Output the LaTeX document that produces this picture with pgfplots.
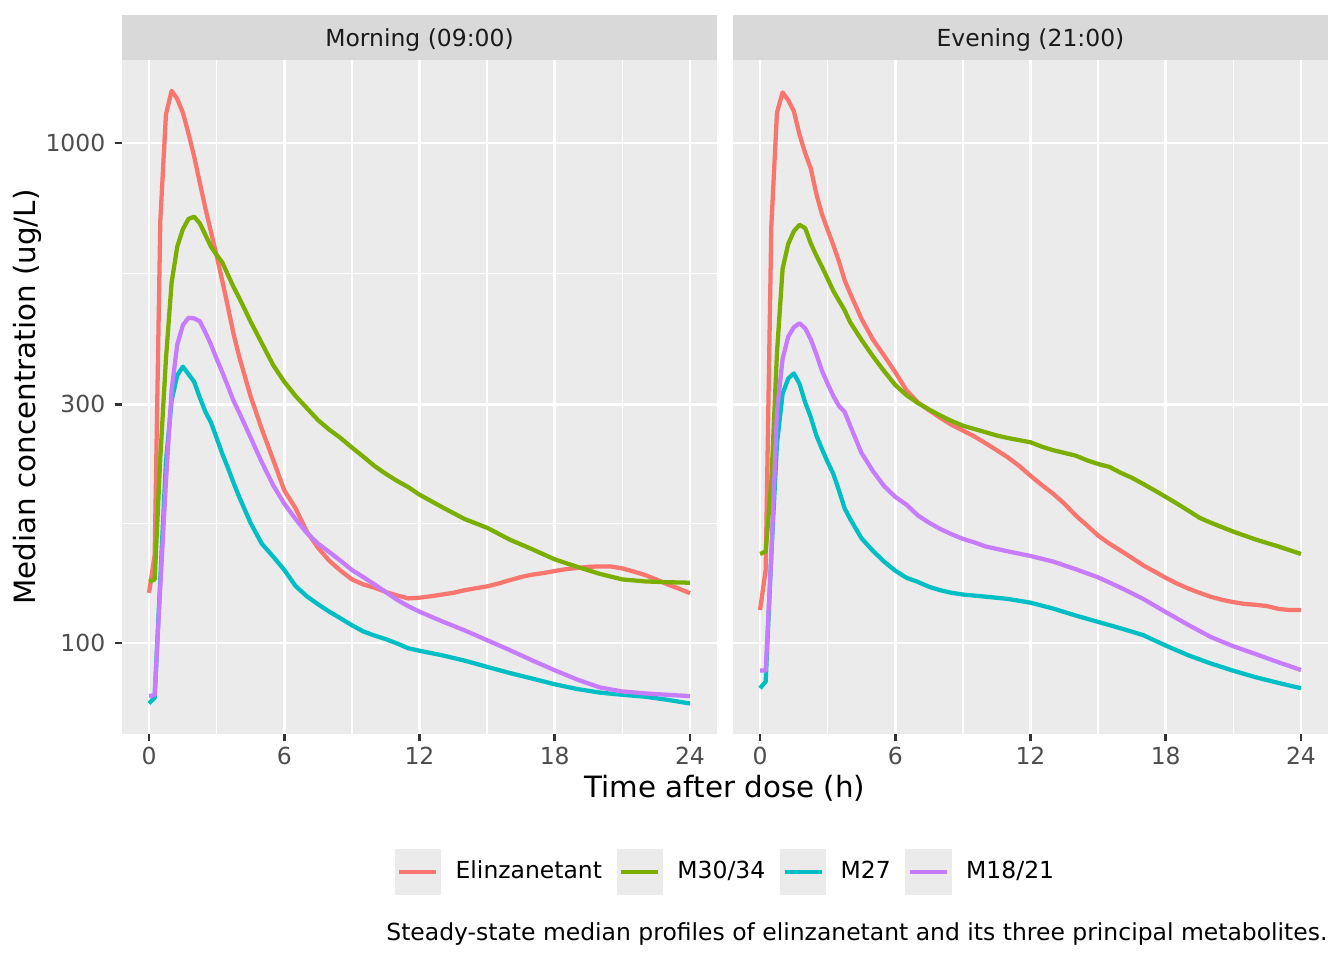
\documentclass[border=0pt]{standalone}
\usepackage{fontspec}
\setmainfont{DejaVu Sans}
\usepackage{pgfplots}
\pgfplotsset{compat=1.18}
\definecolor{ggred}{HTML}{F8766D}
\definecolor{gggreen}{HTML}{7CAE00}
\definecolor{ggteal}{HTML}{00BFC4}
\definecolor{ggpurple}{HTML}{C77CFF}
\definecolor{ggbg}{HTML}{EBEBEB}
\definecolor{ggstrip}{HTML}{D9D9D9}
\definecolor{ggtick}{HTML}{333333}
\definecolor{ggtext}{HTML}{4D4D4D}
\definecolor{ggstriptext}{HTML}{1A1A1A}
\newcommand{\smallfont}{\fontsize{8.8}{10.56}\selectfont}
\newcommand{\titlefont}{\fontsize{11}{13.2}\selectfont}
\begin{document}
\begin{tikzpicture}
\useasboundingbox (0,0) rectangle (504pt,360pt);
% strips
\fill[ggstrip] (45.75pt,337.5pt) rectangle (268.875pt,354.375pt);
\fill[ggstrip] (274.875pt,337.5pt) rectangle (498pt,354.375pt);
\node[font=\smallfont, text=ggstriptext] at (157.31pt,344.9pt) {Morning (09:00)};
\node[font=\smallfont, text=ggstriptext] at (386.44pt,344.9pt) {Evening (21:00)};

\begin{axis}[at={(45.75pt,84.75pt)}, anchor=south west,
    scale only axis, width=223.125pt, height=252.75pt,
    xmin=-1.2, xmax=25.2, ymode=log, ymin=65.77, ymax=1465.5,
    axis background/.style={fill=ggbg},
    axis line style={draw=none},
    xtick={0,6,12,18,24}, minor xtick={3,9,15,21},
    xticklabels={0,6,12,18,24},
    ytick={100,300,1000}, yticklabels={100,300,1000},
    minor ytick={173.2,547.7},
    grid=both,
    major grid style={draw=white, line width=1.07pt},
    minor grid style={draw=white, line width=0.53pt},
    tick align=outside, major tick length=2.75pt, minor tick length=0pt,
    tick style={draw=ggtick, line width=1.07pt},
    xtick pos=left, ytick pos=left,
    tick label style={font=\smallfont, text=ggtext},
    xticklabel style={yshift=1.4pt},
    legend columns=4,
    legend image code/.code={
      \fill[ggbg, draw=none] (0pt,-8.64pt) rectangle (17.28pt,8.64pt);
      \draw[line width=1.6pt] (1.7pt,0pt) -- (15.58pt,0pt);
    },
    legend style={draw=none, fill=none, at={(1.0126,-0.2045)}, anchor=center,
    nodes={inner sep=0pt, font=\smallfont, text=black},
    /tikz/every odd column/.append style={column sep=5.5pt},
    /tikz/every even column/.append style={column sep=5.5pt}},
]
\addplot[ggred, line width=1.6pt, line join=round] coordinates {
(0,126) (0.25,150) (0.5,700) (0.75,1140) (1.0,1272) (1.25,1225) (1.5,1150) (1.75,1045)
(2.0,940) (2.5,740) (3.0,595) (3.25,530) (3.5,470) (3.75,415) (4.0,374) (4.5,312)
(5.0,268) (5.5,233) (6.0,202) (6.5,186) (7.0,167) (7.5,155) (8.0,146) (8.5,139.5)
(9.0,134) (9.5,131) (10.0,129) (10.5,126.5) (11.0,124.5) (11.5,122.8) (12.0,123.2)
(12.5,124) (13.0,125) (13.5,126) (14.0,127.5) (14.5,128.7) (15.0,129.8) (15.5,131.5)
(16.0,133.5) (16.5,135.5) (17.0,137) (17.5,138) (18.0,139.3) (18.5,140.5) (19.0,141.3)
(19.5,142) (20.0,142.3) (20.5,142.2) (21.0,141) (21.5,139) (22.0,136.8) (22.5,134)
(23.0,131) (23.5,128.5) (24.0,125.8)
};
\addlegendentry{Elinzanetant}
\addplot[gggreen, line width=1.6pt, line join=round] coordinates {
(0,132.6) (0.25,134) (0.5,235) (0.75,370) (1.0,525) (1.25,620) (1.5,672) (1.75,705)
(2.0,712) (2.25,691) (2.5,655) (2.75,620) (3.0,597) (3.25,577) (3.5,545) (3.75,515)
(4.0,490) (4.5,440) (5.0,398) (5.5,360) (6.0,333) (6.5,312) (7.0,295) (7.5,279)
(8.0,267) (8.5,257) (9.0,246) (9.5,236) (10.0,226) (10.5,218) (11.0,211) (11.5,205)
(12.0,198) (13.0,187) (14.0,177) (15.0,170) (16.0,161) (17.0,154) (18.0,147) (19.0,142)
(20.0,137.5) (21.0,134) (22.0,132.8) (23.0,132.3) (24.0,132)
};
\addlegendentry{M30/34}
\addplot[ggteal, line width=1.6pt, line join=round] coordinates {
(0,75.7) (0.25,77.8) (0.5,135) (0.75,230) (1.0,305) (1.25,343) (1.5,357) (1.75,345)
(2.0,333) (2.25,310) (2.5,290) (2.75,276) (3.0,257) (3.25,239) (3.5,224) (3.75,209)
(4.0,196) (4.5,174) (5.0,158) (5.5,149) (6.0,140) (6.5,130) (7.0,124) (7.5,119.5)
(8.0,115.5) (8.5,112) (9.0,108.5) (9.5,105.5) (10.0,103.5) (10.5,101.8) (11.0,99.8)
(11.5,97.6) (12.0,96.5) (13.0,94.5) (14.0,92.2) (15.0,89.6) (16.0,87.1) (17.0,84.9)
(18.0,82.7) (19.0,80.9) (20.0,79.6) (21.0,78.8) (22.0,78.1) (23.0,77) (24.0,75.7)
};
\addlegendentry{M27}
\addplot[ggpurple, line width=1.6pt, line join=round] coordinates {
(0,78.3) (0.25,78.7) (0.5,130) (0.75,210) (1.0,320) (1.25,395) (1.5,432) (1.75,447)
(2.0,446) (2.25,440) (2.5,418) (2.75,395) (3.0,370) (3.25,348) (3.5,326) (3.75,305)
(4.0,289) (4.5,258) (5.0,230) (5.5,207) (6.0,190) (6.5,177) (7.0,166) (7.5,158)
(8.0,152) (8.5,146) (9.0,140) (9.5,135.5) (10.0,131) (10.5,126.5) (11.0,122)
(11.5,118.5) (12.0,115.5) (13.0,110.5) (14.0,106) (15.0,101.3) (16.0,96.8) (17.0,92.3)
(18.0,88.2) (19.0,84.5) (20.0,81.5) (21.0,80) (22.0,79.3) (23.0,78.8) (24.0,78.3)
};
\addlegendentry{M18/21}
\end{axis}

\begin{axis}[at={(274.875pt,84.75pt)}, anchor=south west,
    scale only axis, width=223.125pt, height=252.75pt,
    xmin=-1.2, xmax=25.2, ymode=log, ymin=65.77, ymax=1465.5,
    axis background/.style={fill=ggbg},
    axis line style={draw=none},
    xtick={0,6,12,18,24}, minor xtick={3,9,15,21},
    xticklabels={0,6,12,18,24},
    ytick=\empty,
    extra y ticks={100,300,1000}, extra y tick labels={},
    extra y tick style={grid=major, major tick length=0pt},
    minor ytick={173.2,547.7},
    grid=both,
    major grid style={draw=white, line width=1.07pt},
    minor grid style={draw=white, line width=0.53pt},
    tick align=outside, major tick length=2.75pt, minor tick length=0pt,
    tick style={draw=ggtick, line width=1.07pt},
    xtick pos=left, ytick pos=left,
    tick label style={font=\smallfont, text=ggtext},
    xticklabel style={yshift=1.4pt},
]
\addplot[ggred, line width=1.6pt, line join=round] coordinates {
(0,116.4) (0.25,140) (0.5,680) (0.75,1150) (1.0,1262) (1.25,1218) (1.5,1158) (1.75,1040)
(2.0,955) (2.25,890) (2.5,790) (2.75,720) (3.0,670) (3.25,625) (3.5,580) (3.75,532)
(4.0,500) (4.5,445) (5.0,405) (5.5,376) (6.0,348) (6.5,320) (7.0,303) (7.5,292)
(8.0,282) (8.5,273) (9.0,266) (9.5,259) (10.0,251) (10.5,243) (11.0,235) (11.5,226)
(12.0,216) (12.5,207) (13.0,199) (13.5,190) (14.0,180) (14.5,172) (15.0,164) (15.5,158)
(16.0,153) (16.5,148) (17.0,143) (17.5,139) (18.0,135) (18.5,131.5) (19.0,128.5)
(19.5,126) (20.0,123.7) (20.5,122) (21.0,120.7) (21.5,119.7) (22.0,119.2) (22.5,118.5)
(23.0,117) (23.5,116.4) (24.0,116.4)
};
\addplot[gggreen, line width=1.6pt, line join=round] coordinates {
(0,150.7) (0.25,152.3) (0.5,210) (0.75,380) (1.0,560) (1.25,628) (1.5,666) (1.75,686)
(2.0,676) (2.25,630) (2.5,595) (2.75,565) (3.0,535) (3.25,506) (3.5,484) (3.75,463)
(4.0,438) (4.5,404) (5.0,375) (5.5,350) (6.0,328) (6.5,313) (7.0,302) (7.5,293)
(8.0,285) (8.5,278) (9.0,272) (9.5,268) (10.0,264) (10.5,260) (11.0,257) (12.0,252)
(12.5,247) (13.0,243) (13.5,240) (14.0,237) (14.5,232) (15.0,228) (15.5,225) (16.0,219)
(16.5,214) (17.0,208) (17.5,202) (18.0,196) (18.5,190) (19.0,184) (19.5,178) (20.0,174)
(21.0,167) (22.0,161) (23.0,156) (24.0,150.7)
};
\addplot[ggteal, line width=1.6pt, line join=round] coordinates {
(0,81.2) (0.25,83.7) (0.5,150) (0.75,250) (1.0,315) (1.25,338) (1.5,346) (1.75,330)
(2.0,303) (2.25,283) (2.5,260) (2.75,244) (3.0,230) (3.25,218) (3.5,202) (3.75,186)
(4.0,177) (4.5,162) (5.0,153) (5.5,145.5) (6.0,139.5) (6.5,135) (7.0,132.5) (7.5,129.5)
(8.0,127.5) (8.5,126) (9.0,125) (10.0,123.8) (11.0,122.5) (12.0,120.4) (13.0,117.2)
(14.0,113.5) (15.0,110.2) (16.0,107) (17.0,103.7) (18.0,98.8) (19.0,94.5) (20.0,91)
(21.0,88) (22.0,85.4) (23.0,83.2) (24.0,81.2)
};
\addplot[ggpurple, line width=1.6pt, line join=round] coordinates {
(0,88.1) (0.25,88.1) (0.5,150) (0.75,290) (1.0,370) (1.25,410) (1.5,428) (1.75,436)
(2.0,426) (2.25,405) (2.5,378) (2.75,350) (3.0,330) (3.25,312) (3.5,298) (3.75,290)
(4.0,272) (4.5,240) (5.0,221) (5.5,206) (6.0,196) (6.5,189) (7.0,180) (7.5,174)
(8.0,169) (8.5,165) (9.0,161.5) (9.5,159) (10.0,156) (11.0,152.5) (12.0,149.3)
(13.0,145.5) (14.0,140.5) (15.0,135.3) (16.0,129) (17.0,122.5) (18.0,115.3) (19.0,108.7)
(20.0,102.8) (21.0,98.5) (22.0,95) (23.0,91.5) (24.0,88.3)
};
\end{axis}

\node[font=\titlefont, text=black] at (271.875pt,64.5pt) {Time after dose (h)};
\node[font=\titlefont, text=black, rotate=90] at (10.125pt,211.125pt) {Median concentration (ug/L)};
\node[font=\smallfont, text=black, anchor=east, inner sep=0pt] at (498pt,9.9pt) {Steady-state median profiles of elinzanetant and its three principal metabolites.};
\end{tikzpicture}
\end{document}
